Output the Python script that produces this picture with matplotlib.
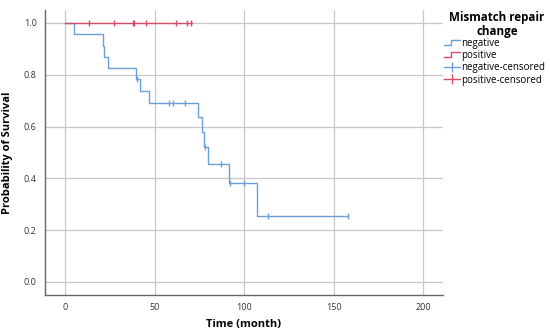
import numpy as np
import matplotlib
matplotlib.use("Agg")
import matplotlib.pyplot as plt
from matplotlib.lines import Line2D
from matplotlib.legend_handler import HandlerBase

plt.rcParams['font.family'] = ['Open Sans', 'DejaVu Sans']

# Kaplan-Meier steps
neg_times = [0, 5, 21, 22, 24, 39.5, 42, 47, 74, 76.7, 77.7, 80, 91.4, 107.4, 157.7]
neg_surv = [1.0, 0.957, 0.913, 0.870, 0.826, 0.785, 0.738, 0.692, 0.635, 0.577,
            0.521, 0.457, 0.381, 0.254, 0.254]
neg_censored = [40, 58, 60, 67, 78.3, 87, 92, 100, 113.4, 157.7]

pos_times = [0, 70.8]
pos_surv = [1.0, 1.0]
pos_censored = [13.2, 27.2, 38.2, 38.7, 45.3, 62.2, 68.2, 70.4]

labels = ["negative", "positive", "negative-censored", "positive-censored"]
legend_title = "Mismatch repair\nchange"
neg_color = '#6b9fd8'
pos_color = '#d64b68'


def surv_at(times, surv, t):
    i = np.searchsorted(times, t, side='right') - 1
    return np.asarray(surv)[i]


class StepHandler(HandlerBase):
    def create_artists(self, legend, orig_handle, xdescent, ydescent,
                       width, height, fontsize, trans):
        x0 = -xdescent
        xs = [x0, x0 + width * 0.45, x0 + width * 0.45, x0 + width]
        ys = [height * 0.15, height * 0.15, height * 0.85, height * 0.85]
        ln = Line2D(xs, ys, color=orig_handle.get_color(), lw=1.0)
        ln.set_transform(trans)
        return [ln]


fig = plt.figure(figsize=(5.5, 3.35), dpi=100)
ax = fig.add_axes([0.0818, 0.1194, 0.7237, 0.8506])

ax.step(neg_times, neg_surv, where='post', color=neg_color, lw=1.0)
ax.step(pos_times, pos_surv, where='post', color=pos_color, lw=1.0)
ax.plot(neg_censored, surv_at(neg_times, neg_surv, neg_censored), ls='none',
        marker='|', ms=5, mew=1.0, color=neg_color)
ax.plot(pos_censored, surv_at(pos_times, pos_surv, pos_censored), ls='none',
        marker='|', ms=5, mew=1.0, color=pos_color)

ax.set_xlim(-11.2, 211)
ax.set_ylim(-0.051, 1.05)
ax.set_xticks([0, 50, 100, 150, 200])
ax.set_yticks([0.0, 0.2, 0.4, 0.6, 0.8, 1.0])
ax.yaxis.set_major_formatter(matplotlib.ticker.FormatStrFormatter('%.1f'))
ax.grid(True, color='#c8c8c8', lw=0.9)
ax.set_axisbelow(True)
for s in ['top', 'right']:
    ax.spines[s].set_visible(False)
for s in ['left', 'bottom']:
    ax.spines[s].set_color('#666666')
    ax.spines[s].set_linewidth(1.0)
ax.tick_params(length=0, labelsize=6.5, colors='#333333', pad=6)
ax.set_xlabel("Time (month)", fontsize=8, fontweight='bold', labelpad=5)
ax.set_ylabel("Probability of Survival", fontsize=8, fontweight='bold', labelpad=8)

# legend title drawn separately to get SPSS-like spacing
fig.text(497 / 550, 1 - 11 / 335, legend_title, ha='center', va='top',
         fontsize=8.4, fontweight='bold', linespacing=1.05)

h_neg = Line2D([], [], color=neg_color)
h_pos = Line2D([], [], color=pos_color)
h_negc = Line2D([], [], color=neg_color, marker='|', ms=7, lw=1.0)
h_posc = Line2D([], [], color=pos_color, marker='|', ms=7, lw=1.0)
leg = fig.legend([h_neg, h_pos, h_negc, h_posc], labels,
                 handler_map={h_neg: StepHandler(), h_pos: StepHandler()},
                 loc='upper left', bbox_to_anchor=(444 / 550, 1 - 38 / 335),
                 frameon=False, fontsize=7, handlelength=1.6,
                 handletextpad=0.2, labelspacing=0.12, borderaxespad=0.0,
                 borderpad=0.0)

fig.savefig("out.png", dpi=100)
